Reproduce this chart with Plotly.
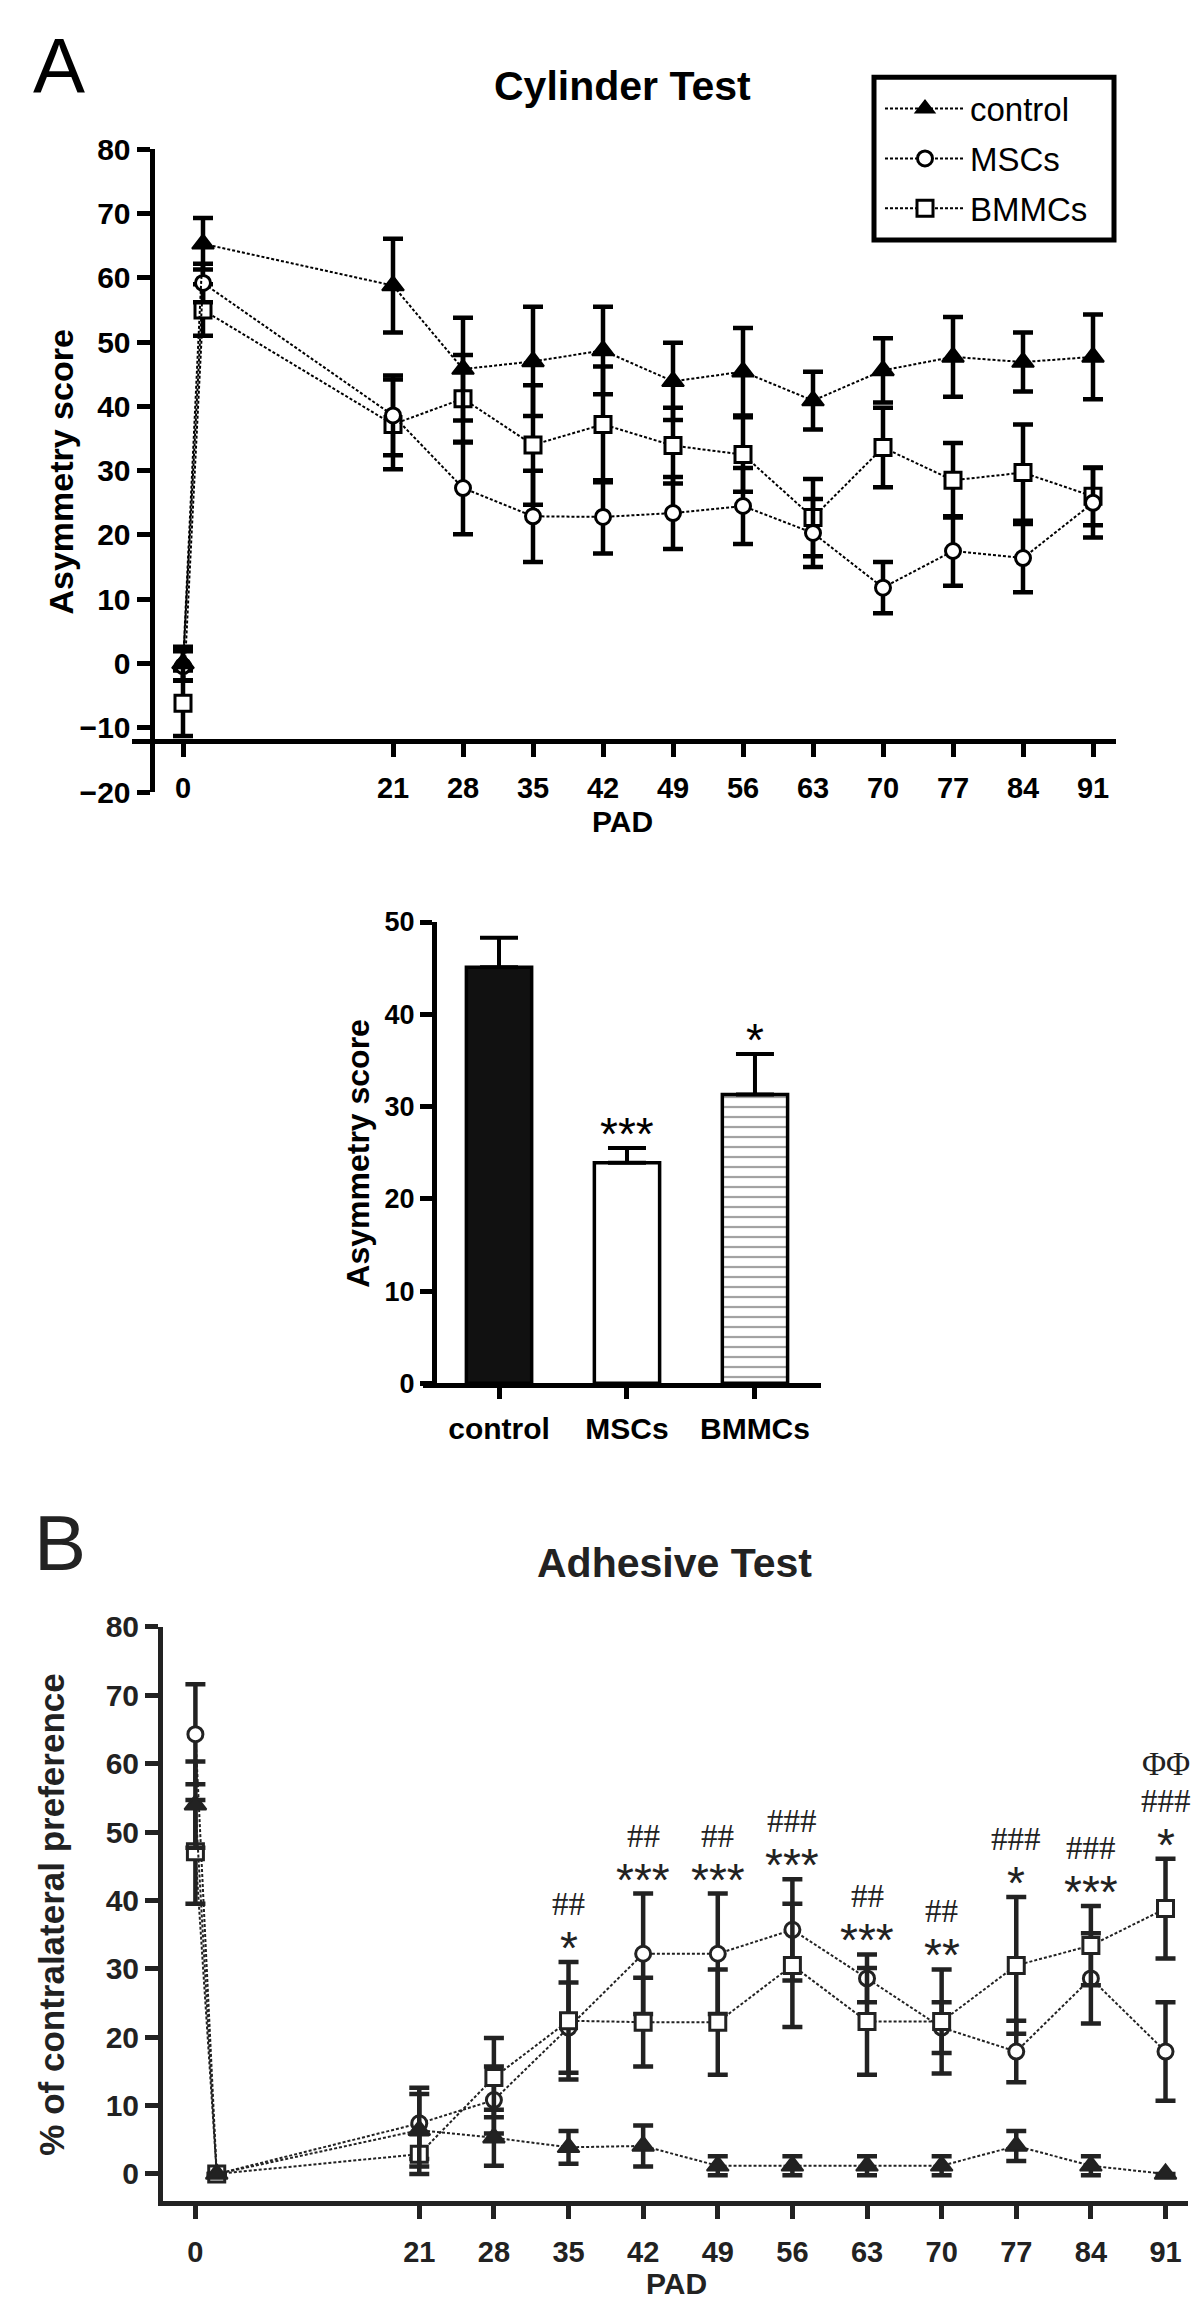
import plotly.graph_objects as go

W, H = 1200, 2316
INK_A = "#000000"
INK_B = "#222222"
SANS = "Liberation Sans, Arial, sans-serif"
SERIF = "Liberation Serif, Times New Roman, serif"

# ---- data -------------------------------------------------------------
days = [0, 2, 21, 28, 35, 42, 49, 56, 63, 70, 77, 84, 91]
day_ticks = [0, 21, 28, 35, 42, 49, 56, 63, 70, 77, 84, 91]

# A: cylinder test, asymmetry score (mean, SEM)
cyl_control = [0.0, 65.3, 58.8, 45.8, 47.0, 48.7, 43.9, 45.4, 40.9, 45.6, 47.7, 46.9, 47.7]
cyl_control_sem = [2.6, 4.0, 7.3, 8.0, 8.5, 6.8, 6.0, 6.8, 4.5, 5.0, 6.2, 4.6, 6.6]
cyl_msc = [-0.4, 59.2, 38.6, 27.3, 22.9, 22.8, 23.4, 24.5, 20.3, 11.8, 17.5, 16.4, 25.0]
cyl_msc_sem = [2.3, 3.0, 6.2, 7.2, 7.1, 5.7, 5.6, 5.9, 5.3, 4.0, 5.4, 5.3, 5.4]
cyl_bmmc = [-6.2, 55.0, 37.2, 41.2, 34.0, 37.2, 33.9, 32.5, 22.7, 33.6, 28.5, 29.7, 26.0]
cyl_bmmc_sem = [5.1, 4.0, 7.0, 6.8, 9.3, 9.0, 5.9, 5.8, 6.0, 6.2, 5.8, 7.5, 4.5]

# A (inset): mean asymmetry score per group
groups = ["control", "MSCs", "BMMCs"]
bar_mean = [45.1, 23.9, 31.3]
bar_sem = [3.2, 1.6, 4.4]
bar_sig = ["", "***", "*"]

# B: adhesive test, % of contralateral preference (None = no error bar)
adh_control = [54.0, 0.0, 6.4, 5.3, 3.9, 4.1, 1.2, 1.2, 1.2, 1.2, 4.1, 1.2, 0.0]
adh_control_sem = [6.3, None, 5.3, 4.1, 2.4, 3.0, 1.4, 1.4, 1.4, 1.4, 2.2, 1.4, None]
adh_msc = [64.3, 0.0, 7.4, 10.8, 21.4, 32.2, 32.2, 35.7, 28.6, 21.4, 17.9, 28.6, 17.9]
adh_msc_sem = [7.3, None, 5.2, 4.9, 6.6, 8.8, 8.8, 7.4, 3.5, 3.7, 4.5, 6.6, 7.2]
adh_bmmc = [47.1, 0.0, 2.9, 14.1, 22.4, 22.2, 22.2, 30.5, 22.3, 22.3, 30.5, 33.4, 38.8]
adh_bmmc_sem = [7.6, None, 2.9, 5.8, 8.6, 6.5, 7.7, 9.0, 7.8, 7.6, 10.0, 5.8, 7.3]

sig_days = [35, 42, 49, 56, 63, 70, 77, 84, 91]
sig_star = ["*", "***", "***", "***", "***", "**", "*", "***", "*"]
sig_hash = ["##", "##", "##", "###", "##", "##", "###", "###", "###"]
sig_phi = ["", "", "", "", "", "", "", "", "ΦΦ"]


def px(x):
    return x / W


def py(y):
    return 1 - y / H


MARKERS = {
    "control": dict(symbol="triangle-up", size=19, line_width=2, filled=True),
    "MSCs": dict(symbol="circle", size=15, line_width=3, filled=False),
    "BMMCs": dict(symbol="square", size=16, line_width=3, filled=False),
}


def series(fig, name, y, err, xa, ya, ink, legend, rank):
    m = MARKERS[name]
    fig.add_trace(go.Scatter(
        x=days, y=y, name=name, mode="lines+markers",
        xaxis=xa, yaxis=ya, showlegend=legend, legendrank=rank, legendgroup=name,
        line=dict(color=ink, width=2, dash="3px,2px"),
        marker=dict(symbol=m["symbol"], size=m["size"],
                    color=ink if m["filled"] else "white",
                    line=dict(color=ink, width=m["line_width"])),
        error_y=dict(type="data", array=err, visible=True, color=ink,
                     thickness=4.5, width=10),
        cliponaxis=False,
    ))


fig = go.Figure()

# panel A line chart (draw order: BMMCs, MSCs, control)
series(fig, "BMMCs", cyl_bmmc, cyl_bmmc_sem, "x", "y", INK_A, True, 3)
series(fig, "MSCs", cyl_msc, cyl_msc_sem, "x", "y", INK_A, True, 2)
series(fig, "control", cyl_control, cyl_control_sem, "x", "y", INK_A, True, 1)

# panel A bar chart
fig.add_trace(go.Bar(
    x=groups, y=bar_mean, width=0.51, xaxis="x2", yaxis="y2", showlegend=False,
    marker=dict(color=["#111111", "white", "white"],
                line=dict(color=INK_A, width=3.5),
                pattern=dict(shape=["", "", "-"], fgcolor=INK_A, bgcolor="white",
                             size=10, solidity=0.22)),
    error_y=dict(type="data", symmetric=False, array=bar_sem,
                 arrayminus=[0] * len(bar_sem), color=INK_A, thickness=4, width=19),
))

# panel B
series(fig, "MSCs", adh_msc, adh_msc_sem, "x3", "y3", INK_B, False, 2)
series(fig, "BMMCs", adh_bmmc, adh_bmmc_sem, "x3", "y3", INK_B, False, 3)
series(fig, "control", adh_control, adh_control_sem, "x3", "y3", INK_B, False, 1)


def axis(ink, size, **kw):
    d = dict(showline=True, linewidth=5, linecolor=ink, ticks="outside",
             ticklen=13, tickwidth=5, tickcolor=ink, showgrid=False, zeroline=False,
             tickfont=dict(family=SANS, size=size, color=ink, weight="bold"))
    d.update(kw)
    return d


fig.update_layout(
    width=W, height=H, template="simple_white",
    paper_bgcolor="white", plot_bgcolor="rgba(0,0,0,0)",
    margin=dict(l=0, r=0, t=0, b=0),
    xaxis=axis(INK_A, 29, domain=[px(124), px(1107.6)], range=[-5.10, 93.26],
               tickvals=day_ticks, anchor="free", position=py(726.7),
               ticklabelstandoff=6),
    yaxis=axis(INK_A, 30, domain=[py(778.1), py(126.1)], range=[-20, 80],
               tickvals=list(range(-20, 81, 10)), anchor="free", position=px(143.5)),
    xaxis2=axis(INK_A, 30, domain=[px(415), px(813)], range=[-0.594, 2.516],
                type="category", ticklen=11, anchor="y2", ticklabelstandoff=4),
    yaxis2=axis(INK_A, 27, domain=[py(1378), py(910)], range=[0, 50],
                tickvals=list(range(0, 51, 10)), anchor="free", position=px(426),
                ticklen=12),
    xaxis3=axis(INK_B, 29, domain=[px(155), px(1180)], range=[-3.04, 93.11],
                tickvals=day_ticks, anchor="y3", ticklabelstandoff=8),
    yaxis3=axis(INK_B, 30, domain=[py(2207.3), py(1625)], range=[-3.93, 80],
                tickvals=list(range(0, 81, 10)), anchor="x3"),
    legend=dict(x=px(872), y=py(135.5), xanchor="left", yanchor="middle",
                borderwidth=0, bgcolor="rgba(0,0,0,0)",
                font=dict(family=SANS, size=33, color=INK_A),
                traceorder="grouped", itemwidth=80, tracegroupgap=4),
    showlegend=True,
)

# legend frame
fig.add_shape(type="rect", xref="paper", yref="paper",
              x0=px(866), x1=px(1106), y0=py(218), y1=py(53), opacity=1,
              line=dict(color=INK_A, width=5), fillcolor="rgba(0,0,0,0)", layer="above")


def text(s, x, y, size, ink, bold=False, angle=0, family=SANS):
    fig.add_annotation(
        text=f"<b>{s}</b>" if bold else s, x=px(x), y=py(y), xref="paper", yref="paper",
        xanchor="center", yanchor="middle", showarrow=False, textangle=angle,
        font=dict(family=family, size=size, color=ink))


text("A", 51, 42, 78, INK_A)
text("Cylinder Test", 614, 62, 41, INK_A, bold=True)
text("Asymmetry score", 53, 454, 34, INK_A, bold=True, angle=-90)
text("PAD", 614, 808, 30, INK_A, bold=True)
text("Asymmetry score", 350, 1145, 32, INK_A, bold=True, angle=-90)
text("B", 52, 1540, 78, INK_B)
text("Adhesive Test", 666, 1560, 41, INK_B, bold=True)
text("% of contralateral preference", 44, 1917, 35, INK_B, bold=True, angle=-90)
text("PAD", 668, 2291, 30, INK_B, bold=True)

STAR_SHIFT = -14
HASH_SHIFT = STAR_SHIFT + 52
PHI_SHIFT = HASH_SHIFT + 37


def mark(s, x, top, xref, yref, ink, shift, size, family):
    if not s:
        return
    fig.add_annotation(text=s, x=x, y=top, xref=xref, yref=yref, xanchor="center",
                       yanchor="bottom", yshift=shift, showarrow=False,
                       font=dict(family=family, size=size, color=ink))


# inset significance
for g, m, e, s in zip(groups, bar_mean, bar_sem, bar_sig):
    mark(s, g, m + e, "x2", "y2", INK_A, STAR_SHIFT, 46, SANS)

# panel B significance, placed above the highest error bar of the treated groups
for d, s, h, p in zip(sig_days, sig_star, sig_hash, sig_phi):
    i = days.index(d)
    top = max(adh_msc[i] + adh_msc_sem[i], adh_bmmc[i] + adh_bmmc_sem[i])
    mark(s, d, top, "x3", "y3", INK_B, STAR_SHIFT, 46, SANS)
    mark(h, d, top, "x3", "y3", INK_B, HASH_SHIFT, 33, SERIF)
    mark(p, d, top, "x3", "y3", INK_B, PHI_SHIFT, 33, SERIF)

fig.write_html("out.html")
